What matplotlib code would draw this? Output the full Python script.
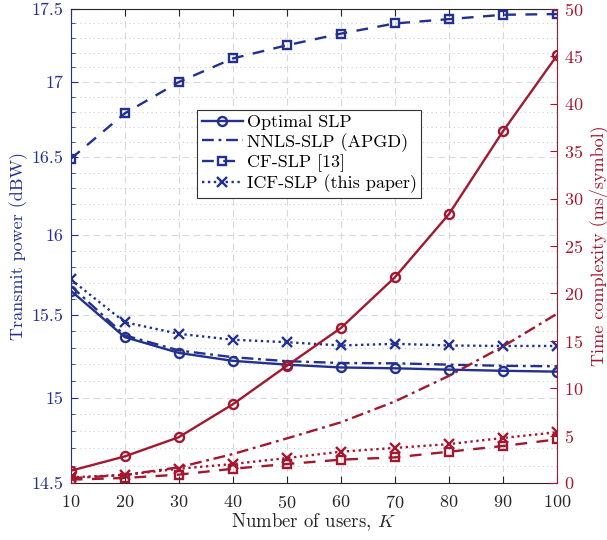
import matplotlib
matplotlib.use("Agg")
import matplotlib.pyplot as plt
from matplotlib.ticker import FixedLocator, FixedFormatter, NullFormatter

plt.rcParams['font.family'] = ['cmr10', 'DejaVu Serif']
plt.rcParams['mathtext.fontset'] = 'cm'
plt.rcParams['axes.formatter.use_mathtext'] = True

# ---- data ----
K = [10, 20, 30, 40, 50, 60, 70, 80, 90, 100]
power_optimal = [15.65, 15.364, 15.268, 15.22, 15.197, 15.18, 15.175, 15.167, 15.16, 15.155]
power_nnls = [15.68, 15.375, 15.283, 15.242, 15.218, 15.207, 15.205, 15.197, 15.19, 15.187]
power_cf = [16.49, 16.79, 17.00, 17.16, 17.25, 17.33, 17.40, 17.43, 17.46, 17.465]
power_icf = [15.72, 15.455, 15.384, 15.348, 15.333, 15.313, 15.323, 15.313, 15.31, 15.31]

time_optimal = [1.29, 2.8, 4.83, 8.3, 12.36, 16.35, 21.7, 28.36, 37.1, 45.1]
time_nnls = [0.5, 0.85, 1.65, 3.05, 4.7, 6.4, 8.6, 11.3, 14.4, 17.85]
time_cf = [0.35, 0.53, 0.88, 1.5, 2.0, 2.46, 2.7, 3.3, 3.9, 4.6]
time_icf = [0.6, 0.85, 1.5, 2.0, 2.63, 3.3, 3.7, 4.1, 4.75, 5.35]

labels = ['Optimal SLP', 'NNLS-SLP (APGD)', 'CF-SLP [13]', 'ICF-SLP (this paper)']
left_ticks = [14.5, 15, 15.5, 16, 16.5, 17, 17.5]
left_tick_labels = ['14.5', '15', '15.5', '16', '16.5', '17', '17.5']
right_ticks = [0, 5, 10, 15, 20, 25, 30, 35, 40, 45, 50]

BLUE = '#22318f'
RED = '#a3172f'
FS = 13

fig = plt.figure(figsize=(6.07, 5.40), dpi=100)
ax = fig.add_axes([0.1165, 0.1056, 0.8011, 0.8777])
ax2 = ax.twinx()

lw = 1.7
styles = [
    dict(ls='-', marker='o', ms=6.5),
    dict(ls=(0, (5, 2, 1.2, 2)), marker=None, ms=0),
    dict(ls=(0, (5, 4)), marker='s', ms=6),
    dict(ls=(0, (1, 1.5)), marker='x', ms=7.5),
]
pw = [power_optimal, power_nnls, power_cf, power_icf]
tm = [time_optimal, time_nnls, time_cf, time_icf]

handles = []
for st, p, lab in zip(styles, pw, labels):
    h, = ax.plot(K, p, color=BLUE, lw=lw, ls=st['ls'], marker=st['marker'],
                 ms=st['ms'], mfc='none', mew=1.7, label=lab, zorder=3)
    handles.append(h)
for st, t in zip(styles, tm):
    ax2.plot(K, t, color=RED, lw=lw, ls=st['ls'], marker=st['marker'],
             ms=st['ms'], mfc='none', mew=1.7, zorder=3)

# left axis (log scale)
ax.set_yscale('log')
ax.set_ylim(14.5, 17.5)
ax.yaxis.set_major_locator(FixedLocator(left_ticks))
ax.yaxis.set_major_formatter(FixedFormatter(left_tick_labels))
minor = [round(14.5 + 0.1 * i, 1) for i in range(31)]
minor = [m for m in minor if all(abs(m - t) > 1e-6 for t in left_ticks)]
ax.yaxis.set_minor_locator(FixedLocator(minor))
ax.yaxis.set_minor_formatter(NullFormatter())
ax.set_xlim(10, 100)
ax.set_xticks(K)

ax2.set_ylim(0, 50)
ax2.set_yticks(right_ticks)

# grids
ax.grid(True, which='major', axis='x', ls=(0, (6, 4)), color='#d8d8d8', lw=0.8)
ax.grid(True, which='major', axis='y', ls=(0, (6, 4)), color='#d6d9e6', lw=0.8)
ax.grid(True, which='minor', axis='y', ls=(0, (1, 3)), color='#c8cbdc', lw=0.8)
ax.set_axisbelow(True)

# ticks and spines
ax.tick_params(axis='y', which='both', direction='in', colors=BLUE, labelsize=FS,
               left=True, right=False, pad=5)
ax.tick_params(axis='y', which='major', length=5)
ax.tick_params(axis='y', which='minor', length=3)
ax.tick_params(axis='x', direction='in', top=True, length=5, labelsize=FS,
               colors='#262626', pad=8)
ax2.tick_params(axis='y', direction='in', colors=RED, labelsize=FS, length=5, pad=5)

ax.spines['left'].set_color(BLUE)
ax.spines['right'].set_visible(False)
ax.spines['top'].set_color('#262626')
ax.spines['bottom'].set_color('#262626')
ax2.spines['right'].set_color(RED)
ax2.spines['left'].set_visible(False)
ax2.spines['top'].set_visible(False)
ax2.spines['bottom'].set_visible(False)
for s in ax.spines.values():
    s.set_linewidth(0.8)
ax2.spines['right'].set_linewidth(0.8)

ax.set_xlabel('Number of users, $K$', fontsize=13.5, color='#262626', labelpad=0)
ax.set_ylabel('Transmit power (dBW)', fontsize=13, color=BLUE, labelpad=3)
ax2.set_ylabel('Time complexity (ms/symbol)', fontsize=13, color=RED, labelpad=4)

leg = ax2.legend(handles=handles, loc='upper left', bbox_to_anchor=(0.26, 0.787),
                 fontsize=FS, frameon=True, fancybox=False, framealpha=1,
                 edgecolor='#333333', handlelength=2.3, handletextpad=0.2,
                 borderpad=0.25, labelspacing=0.15, borderaxespad=0)
leg.get_frame().set_linewidth(0.8)

fig.savefig('out.png', dpi=100)
